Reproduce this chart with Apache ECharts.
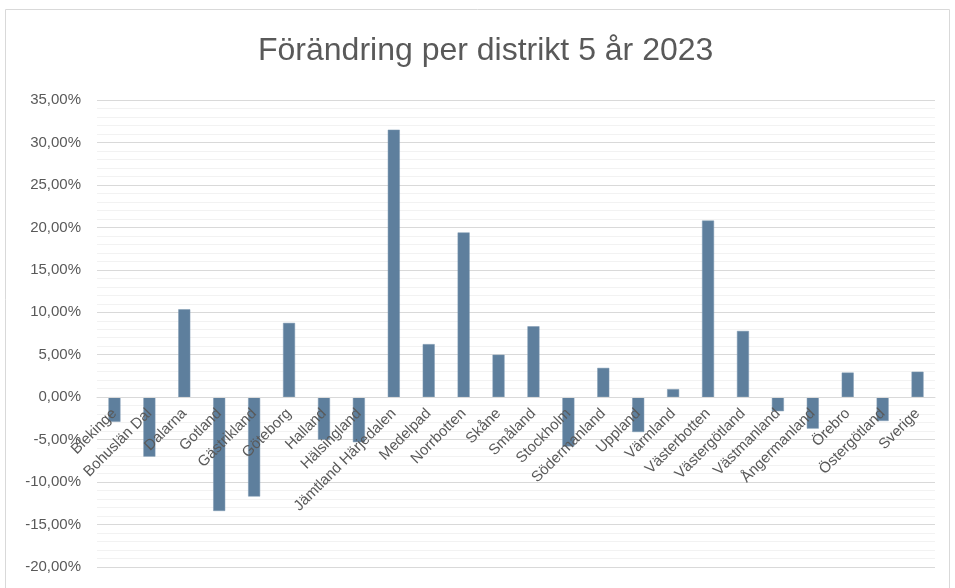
<!DOCTYPE html>
<html style="height: 100%">
<head>
	<meta charset="utf-8">
	<title>Förändring per distrikt</title>
	<script src="https://cdn.jsdelivr.net/npm/echarts@6/dist/echarts.min.js"></script>
</head>
<body style="height: 100%; margin: 0; background: #fff">

	<div id="main" style="width: 955px; height: 588px"></div>

	<script type="text/javascript">
		// distrikt
		var districts = ['Blekinge', 'Bohuslän Dal', 'Dalarna', 'Gotland', 'Gästrikland', 'Göteborg',
			'Halland', 'Hälsingland', 'Jämtland Härjedalen', 'Medelpad', 'Norrbotten', 'Skåne',
			'Småland', 'Stockholm', 'Södermanland', 'Uppland', 'Värmland', 'Västerbotten',
			'Västergötland', 'Västmanland', 'Ångermanland', 'Örebro', 'Östergötland', 'Sverige'];
		// förändring i procent
		var change = [-2.9, -7.0, 10.35, -13.4, -11.7, 8.75, -5.0, -5.3, 31.5, 6.25, 19.4, 5.0,
			8.35, -5.8, 3.45, -4.1, 0.95, 20.8, 7.8, -1.65, -3.7, 2.9, -2.8, 3.0];

		var yMin = -20, yMax = 35, yStep = 5;

		var gridTop = 100, gridBottom = 21, chartH = 588;
		var gridH = chartH - gridTop - gridBottom;
		// kategoriaxeln ligger vid 0, som i Excel
		var zeroOffset = -gridH * (0 - yMin) / (yMax - yMin);

		var myChart = echarts.init(document.getElementById('main'));

		var option = {
			animation: false,
			textStyle: { fontFamily: 'Liberation Sans, Arial, sans-serif' },
			title: {
				text: 'Förändring per distrikt 5 år 2023',
				left: 253,
				top: 30,
				textStyle: { fontSize: 32, fontWeight: 'normal', color: '#595959' }
			},
			graphic: [{
				type: 'rect',
				shape: { x: 5.5, y: 9.5, width: 944, height: 600 },
				style: { fill: 'none', stroke: '#d9d9d9', lineWidth: 1 },
				silent: true
			}],
			grid: { left: 97, right: 20, top: gridTop, bottom: gridBottom, outerBoundsMode: 'none', containLabel: false },
			xAxis: {
				type: 'category',
				data: districts,
				offset: zeroOffset,
				z: 10,
				axisLine: { show: true, onZero: false, lineStyle: { color: '#d9d9d9' } },
				axisTick: { show: false },
				axisLabel: { interval: 0, rotate: 45, fontSize: 15, color: '#595959', margin: 14 }
			},
			yAxis: {
				type: 'value',
				min: yMin,
				max: yMax,
				interval: yStep,
				axisLine: { show: false },
				axisTick: { show: false },
				axisLabel: {
					fontSize: 15, color: '#595959', margin: 16,
					formatter: function (v) { return v.toFixed(2).replace('.', ',') + '%'; }
				},
				splitLine: { lineStyle: { color: '#d9d9d9', width: 1 } },
				minorTick: { show: false, splitNumber: 5 },
				minorSplitLine: { show: true, lineStyle: { color: '#f2f2f2', width: 1 } }
			},
			series: [{
				type: 'bar',
				data: change,
				barWidth: 12,
				z: 2,
				itemStyle: { color: '#5e7f9d', borderColor: '#7d98b0', borderWidth: 0.5 }
			}]
		};

		myChart.setOption(option);
	</script>

</body>
</html>
